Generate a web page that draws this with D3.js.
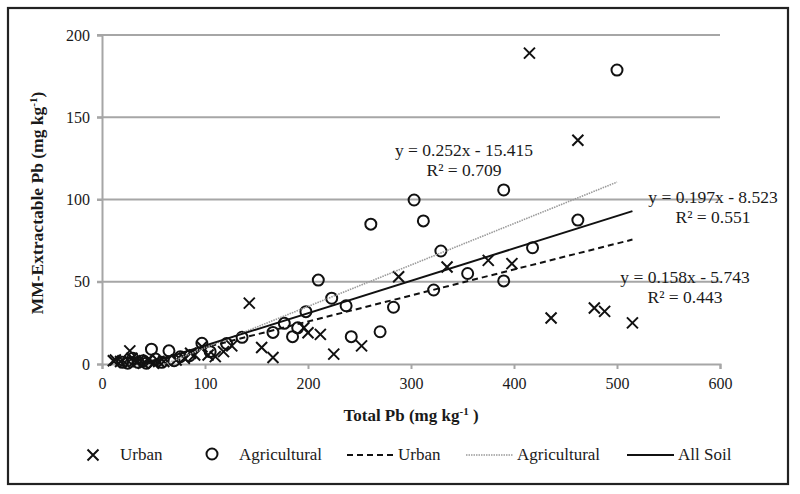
<!DOCTYPE html>
<html>
<head>
<meta charset="utf-8">
<script src="https://cdn.jsdelivr.net/npm/d3@7"></script>
<style>
body { margin: 0; background: #fff; }
text { font-family: "Liberation Serif", "Times New Roman", serif; fill: #1a1a1a; }
</style>
</head>
<body>
<script>
// urban soils [total Pb, MM-extractable Pb]
var urban = [
  [11,2],[13,2.4],[18,1.5],[22,1],[27,8],[29,3.5],[32,2],[35,1.5],[40,0.5],[45,2.4],
  [50,0.5],[55,1.5],[60,1.5],[72,2.4],[80,3.5],[86,6.5],[90,5.5],[97,10.5],[103,5.5],
  [110,4.5],[118,7.5],[126,11],[143,37],[155,10],[166,4],[196,22],[200,19],[212,18],
  [225,6],[252,11],[288,53],[335,59],[375,63],[398,61],[415,189],[436,28],[462,136],
  [478,34],[488,32],[515,25]
];
var agricultural = [
  [20,1],[25,0.5],[30,3.5],[35,1],[40,2],[43,0.5],[48,9],[52,3],[58,1],[65,8],[70,2],
  [76,4.4],[85,5],[97,12.6],[105,7.5],[121,12.4],[136,16.2],[166,19.2],[177,24.7],
  [185,16.6],[190,22],[198,31.8],[210,51],[223,40],[237,35.4],[242,16.6],[261,85],
  [270,19.6],[283,34.5],[303,99.7],[312,87],[322,45],[329,68.7],[355,55],[390,50.5],
  [390,105.8],[418,70.7],[462,87.5],[500,178.7]
];
// trendlines: slope, intercept, x range
var fits = [
  {name: "Urban", m: 0.158, b: -5.743, x0: 11, x1: 515, eq: "y = 0.158x - 5.743", r2: "R² = 0.443"},
  {name: "Agricultural", m: 0.252, b: -15.415, x0: 20, x1: 500, eq: "y = 0.252x - 15.415", r2: "R² = 0.709"},
  {name: "All Soil", m: 0.197, b: -8.523, x0: 11, x1: 515, eq: "y = 0.197x - 8.523", r2: "R² = 0.551"}
];
var xTicks = [0, 100, 200, 300, 400, 500, 600];
var yTicks = [0, 50, 100, 150, 200];

var W = 800, H = 494;
var svg = d3.select("body").append("svg").attr("width", W).attr("height", H);

svg.append("rect").attr("x", 8).attr("y", 8).attr("width", 780).attr("height", 476)
  .attr("fill", "none").attr("stroke", "#222").attr("stroke-width", 2.2);

var x = d3.scaleLinear().domain([0, 600]).range([102, 720]);
var y = d3.scaleLinear().domain([0, 200]).range([364, 35]);

// gridlines
svg.append("g").selectAll("line").data(yTicks.slice(1)).enter().append("line")
  .attr("x1", x(0) - 5).attr("x2", x(600))
  .attr("y1", function(d) { return y(d); }).attr("y2", function(d) { return y(d); })
  .attr("stroke", "#a6a6a6").attr("stroke-width", 2);

// axes
var xAxis = svg.append("g").attr("transform", "translate(0," + y(0) + ")")
  .call(d3.axisBottom(x).tickValues(xTicks).tickSize(5).tickPadding(6));
var yAxis = svg.append("g").attr("transform", "translate(" + x(0) + ",0)")
  .call(d3.axisLeft(y).tickValues(yTicks).tickSize(5).tickPadding(7));
[xAxis, yAxis].forEach(function(a) {
  a.select(".domain").attr("stroke", "#a6a6a6").attr("stroke-width", 2);
  a.selectAll(".tick line").attr("stroke", "#a6a6a6").attr("stroke-width", 2);
  a.selectAll(".tick text").attr("font-family", "Liberation Serif").attr("font-size", 16).attr("fill", "#1a1a1a");
});
xAxis.selectAll(".tick text").attr("dy", "0.9em");

// clip for trendlines
svg.append("clipPath").attr("id", "plot").append("rect")
  .attr("x", x(0)).attr("y", y(200)).attr("width", x(600) - x(0)).attr("height", y(0) - y(200));

var lineStyle = {
  "Urban": {stroke: "#111", width: 2, dash: "6,4"},
  "Agricultural": {stroke: "#9a9a9a", width: 1.6, dash: "1.5,1"},
  "All Soil": {stroke: "#111", width: 2, dash: null}
};

var marks = svg.append("g");

// agricultural markers
marks.selectAll("circle").data(agricultural).enter().append("circle")
  .attr("cx", function(d) { return x(d[0]); })
  .attr("cy", function(d) { return y(d[1]); })
  .attr("r", 5.5)
  .attr("fill", "none").attr("stroke", "#111").attr("stroke-width", 2);

// urban markers
var cross = "M-5.5,-5.5L5.5,5.5M-5.5,5.5L5.5,-5.5";
marks.selectAll("path.u").data(urban).enter().append("path").attr("class", "u")
  .attr("d", cross)
  .attr("transform", function(d) { return "translate(" + x(d[0]) + "," + y(d[1]) + ")"; })
  .attr("fill", "none").attr("stroke", "#111").attr("stroke-width", 2);

// trendlines
svg.append("g").attr("clip-path", "url(#plot)").selectAll("line").data(fits).enter().append("line")
  .attr("x1", function(d) { return x(d.x0); })
  .attr("y1", function(d) { return y(d.m * d.x0 + d.b); })
  .attr("x2", function(d) { return x(d.x1); })
  .attr("y2", function(d) { return y(d.m * d.x1 + d.b); })
  .attr("stroke", function(d) { return lineStyle[d.name].stroke; })
  .attr("stroke-width", function(d) { return lineStyle[d.name].width; })
  .attr("stroke-dasharray", function(d) { return lineStyle[d.name].dash; });

// equation labels
var labelPos = {"Urban": [685, 283], "Agricultural": [464, 156], "All Soil": [713, 203]};
fits.forEach(function(f) {
  var p = labelPos[f.name];
  var t = svg.append("text").attr("text-anchor", "middle").attr("font-size", 17.5);
  t.append("tspan").attr("x", p[0]).attr("y", p[1]).text(f.eq);
  t.append("tspan").attr("x", p[0]).attr("y", p[1] + 20).text(f.r2);
});

// axis titles
var xt = svg.append("text").attr("x", 411).attr("y", 421).attr("text-anchor", "middle")
  .attr("font-size", 17).attr("font-weight", "bold");
xt.append("tspan").text("Total Pb (mg kg");
xt.append("tspan").attr("font-size", 11).attr("dy", -6).text("-1");
xt.append("tspan").attr("dy", 6).text(" )");

var yt = svg.append("text").attr("transform", "translate(43,203) rotate(-90)").attr("text-anchor", "middle")
  .attr("font-size", 17.5).attr("font-weight", "bold");
yt.append("tspan").text("MM-Extractable Pb (mg kg");
yt.append("tspan").attr("font-size", 11).attr("dy", -6).text("-1");
yt.append("tspan").attr("dy", 6).text(")");

// legend
var ly = 455;
var lg = svg.append("g");
lg.append("path").attr("d", cross).attr("transform", "translate(93," + ly + ")")
  .attr("fill", "none").attr("stroke", "#111").attr("stroke-width", 2);
lg.append("text").attr("x", 120).attr("y", ly + 5).attr("font-size", 17).text("Urban");
lg.append("circle").attr("cx", 212).attr("cy", ly - 1).attr("r", 5.5)
  .attr("fill", "none").attr("stroke", "#111").attr("stroke-width", 2);
lg.append("text").attr("x", 239).attr("y", ly + 5).attr("font-size", 17).text("Agricultural");
var legLines = [
  {name: "Urban", x: 347, label: "Urban"},
  {name: "Agricultural", x: 466, label: "Agricultural"},
  {name: "All Soil", x: 627, label: "All Soil"}
];
legLines.forEach(function(l) {
  var s = lineStyle[l.name];
  lg.append("line").attr("x1", l.x).attr("x2", l.x + 47).attr("y1", ly).attr("y2", ly)
    .attr("stroke", s.stroke).attr("stroke-width", s.width).attr("stroke-dasharray", s.dash);
  lg.append("text").attr("x", l.x + 51).attr("y", ly + 5).attr("font-size", 17).text(l.label);
});
</script>
</body>
</html>
